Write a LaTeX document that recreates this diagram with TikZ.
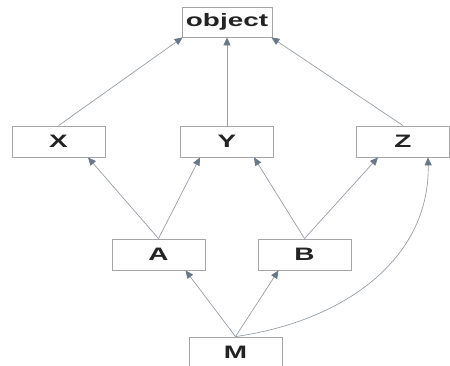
\documentclass[tikz,border=0pt]{standalone}
\usepackage{fontspec}
\setmainfont{Liberation Sans}
\usetikzlibrary{arrows.meta}
\definecolor{boxline}{RGB}{165,165,165}
\definecolor{edgeline}{RGB}{150,158,166}
\definecolor{tipcol}{RGB}{105,120,135}
\definecolor{txt}{RGB}{35,35,35}
\tikzset{
  cls/.style={draw=boxline, line width=0.8pt, fill=white, minimum width=93pt, minimum height=31pt, inner sep=0pt, text=txt, font=\fontsize{18}{18}\selectfont\bfseries},
  inh/.style={draw=edgeline, line width=0.7pt, -{Triangle[length=8pt,width=7pt,fill=tipcol,color=tipcol]}}
}
\newcommand{\wide}[1]{\scalebox{1.55}[1]{#1}}
\begin{document}
\begin{tikzpicture}[x=1pt,y=-1pt]
\useasboundingbox (0,0) rectangle (450,366);
\node[cls, minimum width=90pt, minimum height=30pt] (obj) at (227,22) {\wide{object}};
\node[cls] (X) at (58.5,141.5) {\wide{X}};
\node[cls] (Y) at (227,141.5) {\wide{Y}};
\node[cls] (Z) at (403,141.5) {\wide{Z}};
\node[cls] (A) at (158.5,254.5) {\wide{A}};
\node[cls] (B) at (304.5,254.5) {\wide{B}};
\node[cls] (M) at (235.5,352.5) {\wide{M}};
\draw[inh] (X.north) -- ([xshift=1pt]obj.south west);
\draw[inh] (Y.north) -- (obj.south);
\draw[inh] (Z.north) -- ([xshift=-1pt]obj.south east);
\draw[inh] (A.north) -- ([xshift=29.5pt]X.south);
\draw[inh] (A.north) -- ([xshift=-27pt]Y.south);
\draw[inh] (B.north) -- ([xshift=27pt]Y.south);
\draw[inh] (B.north) -- ([xshift=-25pt]Z.south);
\draw[inh] (M.north) -- ([xshift=27pt]A.south);
\draw[inh] (M.north) -- ([xshift=-26pt]B.south);
\draw[inh] (M.north) .. controls (350,320) and (430,255) .. ([xshift=25pt]Z.south);
\end{tikzpicture}
\end{document}
